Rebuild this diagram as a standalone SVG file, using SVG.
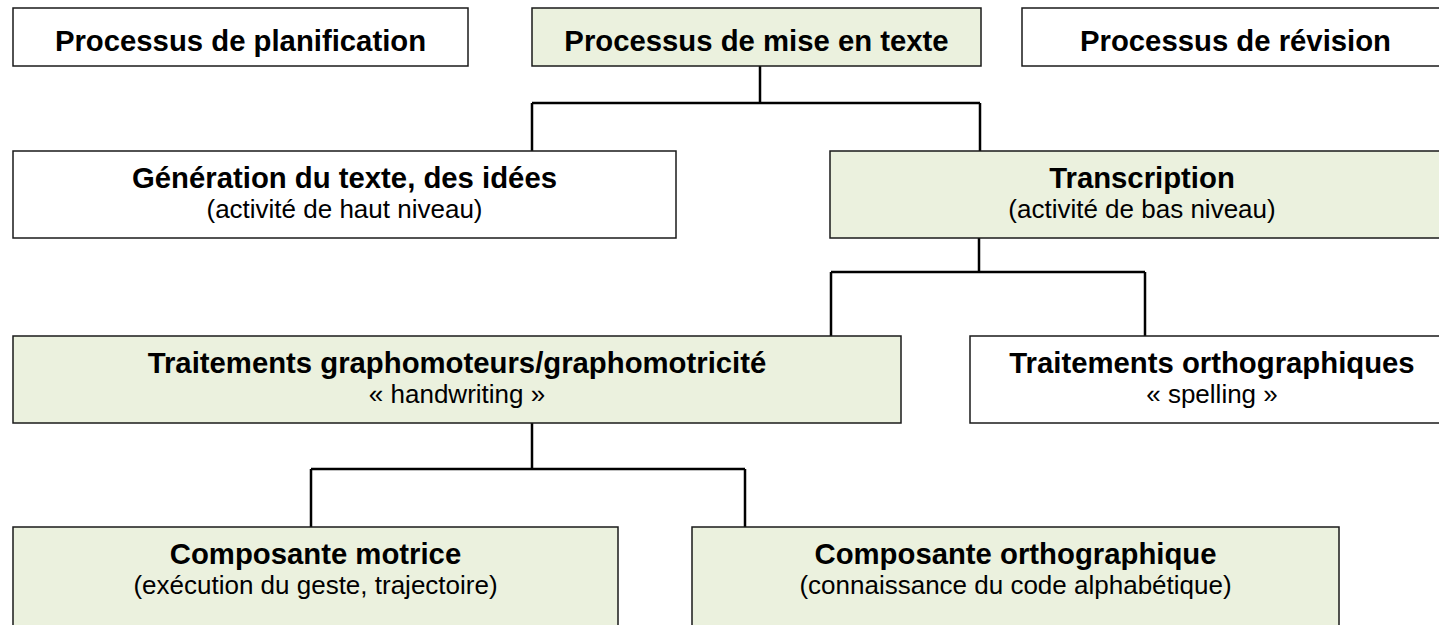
<svg xmlns="http://www.w3.org/2000/svg" width="1439" height="625" viewBox="0 0 1439 625">
<style>
.box{stroke:#1a1a1a;stroke-width:1.5}
.w{fill:#ffffff}
.g{fill:#EBF1DE}
.t{font-family:"Liberation Sans",Arial,sans-serif;font-weight:bold;font-size:29.3px;fill:#000;text-anchor:middle}
.s{font-family:"Liberation Sans",Arial,sans-serif;font-size:26px;fill:#000;text-anchor:middle}
.c{fill:none;stroke:#000;stroke-width:2.5}
</style>
<rect width="1439" height="625" fill="#ffffff"/>
<g id="connectors">
<path class="c" d="M760 66 V103 M532 103 H980 M532 103 V151 M980 103 V151"/>
<path class="c" d="M979 238 V272 M831 272 H1145 M831 272 V336 M1145 272 V336"/>
<path class="c" d="M532 423 V469 M311 469 H745 M311 469 V527 M745 469 V527"/>
</g>
<g id="planification">
<rect class="box w" x="13" y="8" width="455" height="58"/>
<text class="t" x="240.5" y="51">Processus de planification</text>
</g>
<g id="mise-en-texte">
<rect class="box g" x="532" y="8" width="449" height="58"/>
<text class="t" x="756.5" y="51">Processus de mise en texte</text>
</g>
<g id="revision">
<rect class="box w" x="1022" y="8" width="427" height="58"/>
<text class="t" x="1235.5" y="51">Processus de révision</text>
</g>
<g id="generation">
<rect class="box w" x="13" y="151" width="663" height="87"/>
<text class="t" x="344.5" y="188">Génération du texte, des idées</text>
<text class="s" x="344.5" y="218">(activité de haut niveau)</text>
</g>
<g id="transcription">
<rect class="box g" x="830" y="151" width="624" height="87"/>
<text class="t" x="1142" y="188">Transcription</text>
<text class="s" x="1142" y="218">(activité de bas niveau)</text>
</g>
<g id="graphomoteurs">
<rect class="box g" x="13" y="336" width="888" height="87"/>
<text class="t" x="457" y="373">Traitements graphomoteurs/graphomotricité</text>
<text class="s" x="457" y="403">« handwriting »</text>
</g>
<g id="orthographiques">
<rect class="box w" x="970" y="336" width="484" height="87"/>
<text class="t" x="1212" y="373">Traitements orthographiques</text>
<text class="s" x="1212" y="403">« spelling »</text>
</g>
<g id="motrice">
<rect class="box g" x="13" y="527" width="605" height="120"/>
<text class="t" x="315.5" y="564">Composante motrice</text>
<text class="s" x="315.5" y="594">(exécution du geste, trajectoire)</text>
</g>
<g id="orthographique">
<rect class="box g" x="692" y="527" width="647" height="120"/>
<text class="t" x="1015.5" y="564">Composante orthographique</text>
<text class="s" x="1015.5" y="594">(connaissance du code alphabétique)</text>
</g>
</svg>
